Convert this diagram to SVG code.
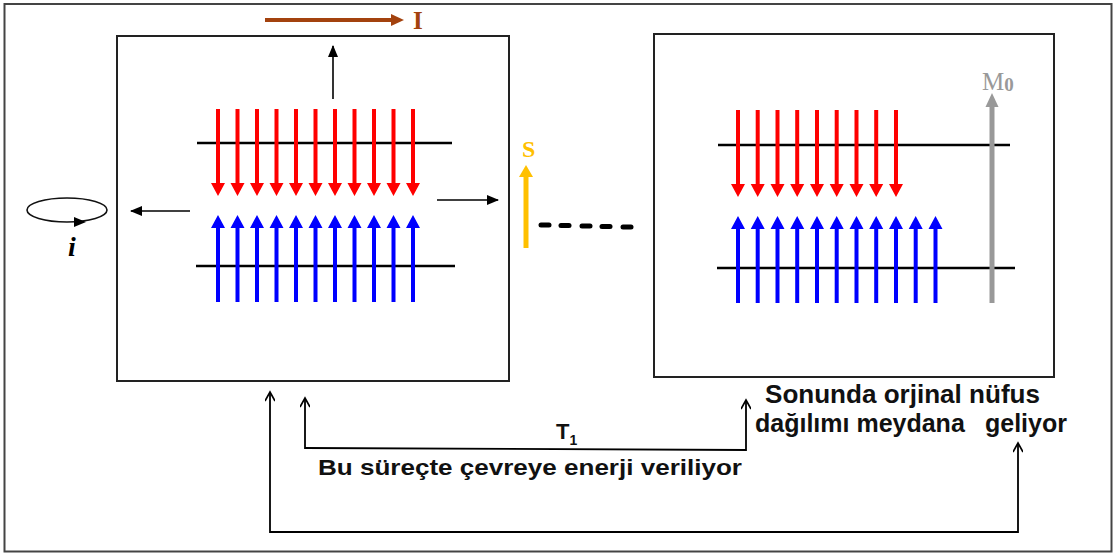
<svg xmlns="http://www.w3.org/2000/svg" xmlns:xlink="http://www.w3.org/1999/xlink" width="1115" height="554" viewBox="0 0 1115 554">
  <style>
    .frame { fill: none; stroke: #444; stroke-width: 2; }
    .box { fill: #fff; stroke: #222; stroke-width: 2; }
    .level { stroke: #000; stroke-width: 2.5; }
    .thin { fill: none; stroke: #000; stroke-width: 1.6; }
    .conn { fill: none; stroke: #000; stroke-width: 1.8; }
    .label { font-family: "Liberation Sans", Arial, sans-serif; font-weight: bold; fill: #111; }
    .serif { font-family: "Liberation Serif", "Times New Roman", serif; font-weight: bold; }
    .dash { stroke: #000; stroke-width: 5; stroke-linecap: round; }
  </style>
  <defs>
    <!-- spin arrows: origin at the tail end -->
    <path id="spinDown" d="M-2,0 H2 V74 H7 L0,87 L-7,74 H-2 Z" fill="#ff0000"/>
    <path id="spinUp" d="M-2,0 H2 V-74 H7 L0,-87 L-7,-74 H-2 Z" fill="#0000ff"/>
    <marker id="head" markerWidth="12" markerHeight="10" refX="11" refY="5" orient="auto" markerUnits="userSpaceOnUse">
      <path d="M0,0 L12,5 L0,10 Z" fill="#000"/>
    </marker>
    <marker id="open" markerWidth="12" markerHeight="10" refX="10" refY="5" orient="auto" markerUnits="userSpaceOnUse">
      <path d="M1,0 L10,5 L1,10" fill="none" stroke="#000" stroke-width="1.6"/>
    </marker>
  </defs>

  <rect class="frame" x="4.5" y="4" width="1107" height="547.5"/>

  <!-- excited state: left panel -->
  <g id="left-panel">
    <rect class="box" x="117" y="36" width="392" height="345"/>
    <line class="level" x1="197" y1="143" x2="452" y2="143"/>
    <line class="level" x1="196" y1="266" x2="455" y2="266"/>
    <g>
      <use xlink:href="#spinDown" x="218" y="109"/>
      <use xlink:href="#spinDown" x="237.5" y="109"/>
      <use xlink:href="#spinDown" x="257" y="109"/>
      <use xlink:href="#spinDown" x="276.5" y="109"/>
      <use xlink:href="#spinDown" x="296" y="109"/>
      <use xlink:href="#spinDown" x="315.5" y="109"/>
      <use xlink:href="#spinDown" x="335" y="109"/>
      <use xlink:href="#spinDown" x="354.5" y="109"/>
      <use xlink:href="#spinDown" x="374" y="109"/>
      <use xlink:href="#spinDown" x="393.5" y="109"/>
      <use xlink:href="#spinDown" x="413" y="109"/>
    </g>
    <g>
      <use xlink:href="#spinUp" x="218" y="302"/>
      <use xlink:href="#spinUp" x="237.5" y="302"/>
      <use xlink:href="#spinUp" x="257" y="302"/>
      <use xlink:href="#spinUp" x="276.5" y="302"/>
      <use xlink:href="#spinUp" x="296" y="302"/>
      <use xlink:href="#spinUp" x="315.5" y="302"/>
      <use xlink:href="#spinUp" x="335" y="302"/>
      <use xlink:href="#spinUp" x="354.5" y="302"/>
      <use xlink:href="#spinUp" x="374" y="302"/>
      <use xlink:href="#spinUp" x="393.5" y="302"/>
      <use xlink:href="#spinUp" x="413" y="302"/>
    </g>
    <line class="thin" x1="333" y1="99" x2="333" y2="46" marker-end="url(#head)"/>
    <line class="thin" x1="190" y1="211" x2="131" y2="211" marker-end="url(#head)"/>
    <line class="thin" x1="437" y1="200" x2="498" y2="200" marker-end="url(#head)"/>
  </g>

  <!-- current I -->
  <g id="current-I">
    <line x1="265" y1="20" x2="393" y2="20" stroke="#a3420e" stroke-width="4"/>
    <path d="M391,14 L404,20 L391,26 Z" fill="#a3420e"/>
    <text class="serif" x="413" y="29" font-size="25" fill="#a3420e">I</text>
  </g>

  <!-- loop current i -->
  <g id="loop-i">
    <ellipse cx="67" cy="210" rx="40" ry="12" fill="none" stroke="#111" stroke-width="1.6"/>
    <path d="M74,217 L86,222 L74,227 Z" fill="#000"/>
    <text class="serif" x="68" y="256" font-size="28" font-style="italic" fill="#000">i</text>
  </g>

  <!-- signal S -->
  <g id="signal-S">
    <line x1="526" y1="248" x2="526" y2="174" stroke="#ffc000" stroke-width="5"/>
    <path d="M519,177 L526,165 L533,177 Z" fill="#ffc000"/>
    <text class="serif" x="522" y="157" font-size="24" fill="#ffc000">S</text>
  </g>

  <!-- elapsed time -->
  <g id="dashes">
    <line class="dash" x1="541" y1="225" x2="549" y2="225"/>
    <line class="dash" x1="561" y1="225.5" x2="569" y2="225.5"/>
    <line class="dash" x1="582" y1="226" x2="590" y2="226"/>
    <line class="dash" x1="602" y1="226.5" x2="610" y2="226.5"/>
    <line class="dash" x1="623" y1="227" x2="631" y2="227"/>
  </g>

  <!-- relaxed state: right panel -->
  <g id="right-panel">
    <rect class="box" x="654" y="34" width="400" height="343"/>
    <line class="level" x1="718" y1="145" x2="1010" y2="145"/>
    <line class="level" x1="717" y1="268" x2="1015" y2="268"/>
    <g>
      <use xlink:href="#spinDown" x="738" y="110"/>
      <use xlink:href="#spinDown" x="757.7" y="110"/>
      <use xlink:href="#spinDown" x="777.5" y="110"/>
      <use xlink:href="#spinDown" x="797.2" y="110"/>
      <use xlink:href="#spinDown" x="817" y="110"/>
      <use xlink:href="#spinDown" x="836.7" y="110"/>
      <use xlink:href="#spinDown" x="856.5" y="110"/>
      <use xlink:href="#spinDown" x="876.2" y="110"/>
      <use xlink:href="#spinDown" x="896" y="110"/>
    </g>
    <g>
      <use xlink:href="#spinUp" x="738" y="303"/>
      <use xlink:href="#spinUp" x="757.7" y="303"/>
      <use xlink:href="#spinUp" x="777.5" y="303"/>
      <use xlink:href="#spinUp" x="797.2" y="303"/>
      <use xlink:href="#spinUp" x="817" y="303"/>
      <use xlink:href="#spinUp" x="836.7" y="303"/>
      <use xlink:href="#spinUp" x="856.5" y="303"/>
      <use xlink:href="#spinUp" x="876.2" y="303"/>
      <use xlink:href="#spinUp" x="896" y="303"/>
      <use xlink:href="#spinUp" x="915.7" y="303"/>
      <use xlink:href="#spinUp" x="935.5" y="303"/>
    </g>
    <line x1="992" y1="303" x2="992" y2="104" stroke="#999" stroke-width="5"/>
    <path d="M985.5,107 L992,93 L998.5,107 Z" fill="#999"/>
    <text x="982" y="90" font-family="'Liberation Serif', 'Times New Roman', serif" font-size="25" fill="#999">M<tspan font-weight="bold" font-size="19" dy="1">0</tspan></text>
  </g>

  <!-- time lines -->
  <g id="connectors">
    <polyline class="conn" points="305,448 746,450 746,400" marker-end="url(#open)"/>
    <line class="conn" x1="305" y1="449" x2="305" y2="398" marker-end="url(#open)"/>
    <polyline class="conn" points="270,532 1018,532 1018,443" marker-end="url(#open)"/>
    <line class="conn" x1="270" y1="533" x2="270" y2="392" marker-end="url(#open)"/>
  </g>

  <g id="labels">
    <text class="label" x="556" y="439" font-size="22">T<tspan font-size="14" dy="6">1</tspan></text>
    <text class="label" x="318" y="475" font-size="22" textLength="424" lengthAdjust="spacingAndGlyphs">Bu süreçte çevreye enerji veriliyor</text>
    <text class="label" x="765" y="403" font-size="25" textLength="275" lengthAdjust="spacingAndGlyphs">Sonunda orjinal nüfus</text>
    <text class="label" x="755" y="432" font-size="25">dağılımı meydana</text>
    <text class="label" x="985" y="432" font-size="25">geliyor</text>
  </g>
</svg>
